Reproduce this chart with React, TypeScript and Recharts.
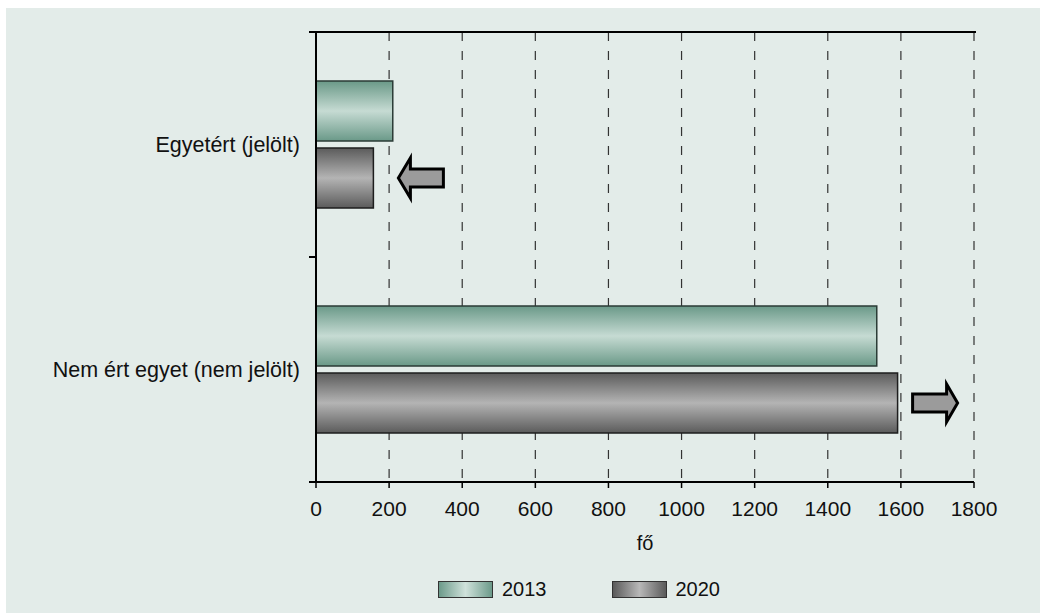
import * as Recharts from 'recharts';
import {
  Bar,
  BarChart,
  CartesianGrid,
  LabelList,
  ReferenceLine,
  XAxis,
  YAxis,
} from 'recharts';

const categories = ['Egyetért (jelölt)', 'Nem ért egyet (nem jelölt)'];
const values2013 = [210, 1534];
const values2020 = [157, 1591];
// direction of the change marker drawn after the 2020 bar
const arrowDirections = ['left', 'right'];
const xTicks = [0, 200, 400, 600, 800, 1000, 1200, 1400, 1600, 1800];
const seriesNames = ['2013', '2020'];

const FONT = '"Liberation Sans", Arial, sans-serif';
const PANEL_BG = '#e3ece9';
const LABEL_GAP = 16;
const EDGE_TICK = 7;

const chartData = categories.map((name, i) => ({
  name,
  y2013: values2013[i],
  y2020: values2020[i],
  arrow: arrowDirections[i],
}));

const usePlotAreaHook: any = (Recharts as any).usePlotArea;

// solid frame line across the top of the plot area
const TopFrame = () => {
  const plot = usePlotAreaHook ? usePlotAreaHook() : null;
  if (!plot) return null;
  return (
    <line
      x1={plot.x - EDGE_TICK}
      x2={plot.x + plot.width + 2}
      y1={plot.y}
      y2={plot.y}
      stroke="#000"
      strokeWidth={2}
    />
  );
};

// category label plus tick marks on the band edges (not the band centre)
const CategoryTick = (props: any) => {
  const { x, y, payload, index, visibleTicksCount } = props;
  const half = payload?.offset ?? 112.5;
  const axisX = x + LABEL_GAP;
  const last = index === (visibleTicksCount ?? categories.length) - 1;
  return (
    <g>
      <line
        x1={axisX - EDGE_TICK}
        x2={axisX}
        y1={y - half}
        y2={y - half}
        stroke="#000"
        strokeWidth={2}
      />
      {last && (
        <line
          x1={axisX - EDGE_TICK}
          x2={axisX}
          y1={y + half}
          y2={y + half}
          stroke="#000"
          strokeWidth={2}
        />
      )}
      <text
        x={x}
        y={y}
        dy="0.355em"
        textAnchor="end"
        fill="#111"
        fontSize={21.5}
        fontFamily={FONT}
      >
        {payload.value}
      </text>
    </g>
  );
};

const ChangeArrow = (props: any) => {
  const { x, y, width, height, index } = props;
  const dir = arrowDirections[index];
  const cy = y + height / 2;
  const end = x + width;
  let pts: number[][];
  if (dir === 'left') {
    const tx = end + 25;
    pts = [
      [tx, cy],
      [tx + 12, cy - 20],
      [tx + 12, cy - 9],
      [tx + 45, cy - 9],
      [tx + 45, cy + 9],
      [tx + 12, cy + 9],
      [tx + 12, cy + 20],
    ];
  } else {
    const sx = end + 15;
    pts = [
      [sx, cy - 9],
      [sx + 34, cy - 9],
      [sx + 34, cy - 19],
      [sx + 45, cy],
      [sx + 34, cy + 19],
      [sx + 34, cy + 9],
      [sx, cy + 9],
    ];
  }
  return (
    <polygon
      points={pts.map((p) => p.join(',')).join(' ')}
      fill="#9b9b9b"
      stroke="#000"
      strokeWidth={3}
      strokeLinejoin="miter"
    />
  );
};

const swatchStyle = (grad: string) => ({
  display: 'inline-block',
  width: 53,
  height: 15,
  border: '1px solid #333',
  background: grad,
  marginRight: 9,
  verticalAlign: 'middle',
});

const legendGradients = [
  'linear-gradient(to right, #6c9a8a, #d0e2db 50%, #6c9a8a)',
  'linear-gradient(to right, #5a5a5a, #b8b8b8 50%, #5a5a5a)',
];

export default function App() {
  return (
    <div
      style={{
        position: 'absolute',
        left: 0,
        top: 0,
        width: 1040,
        height: 613,
        background: '#fff',
        fontFamily: FONT,
        overflow: 'hidden',
      }}
    >
      <div
        style={{
          position: 'absolute',
          left: 6,
          top: 8,
          right: 0,
          bottom: 0,
          background: PANEL_BG,
        }}
      />
      <div style={{ position: 'absolute', left: 0, top: 0 }}>
        <BarChart
          width={1040}
          height={613}
          data={chartData}
          layout="vertical"
          margin={{ top: 32, right: 66, bottom: 56, left: 0 }}
          barSize={60}
          barGap={7}
        >
          <defs>
            <linearGradient id="g2013" x1="0" y1="0" x2="0" y2="1">
              <stop offset="0%" stopColor="#6a9988" />
              <stop offset="50%" stopColor="#c6dbd3" />
              <stop offset="100%" stopColor="#6a9988" />
            </linearGradient>
            <linearGradient id="g2020" x1="0" y1="0" x2="0" y2="1">
              <stop offset="0%" stopColor="#5b5b5b" />
              <stop offset="50%" stopColor="#b4b4b4" />
              <stop offset="100%" stopColor="#5b5b5b" />
            </linearGradient>
          </defs>
          <CartesianGrid
            horizontal={false}
            stroke="#333"
            strokeDasharray="9 10"
            strokeWidth={1.2}
          />
          <XAxis
            type="number"
            domain={[0, 1800]}
            ticks={xTicks}
            height={75}
            axisLine={{ stroke: '#000', strokeWidth: 2 }}
            tickLine={{ stroke: '#000', strokeWidth: 1.5 }}
            tickSize={6}
            tickMargin={13}
            tick={{ fill: '#111', fontSize: 21, fontFamily: FONT }}
            label={{
              value: 'fő',
              position: 'insideBottom',
              offset: 7,
              fill: '#111',
              fontSize: 20,
              fontFamily: FONT,
            }}
          />
          <YAxis
            type="category"
            dataKey="name"
            width={316}
            axisLine={{ stroke: '#000', strokeWidth: 2 }}
            tickLine={false}
            tickSize={0}
            tickMargin={LABEL_GAP}
            tick={CategoryTick}
          />
          <ReferenceLine
            y={categories[0]}
            position="start"
            ifOverflow="visible"
            stroke="#000"
            strokeWidth={2}
          />
          <Bar
            dataKey="y2013"
            name={seriesNames[0]}
            fill="url(#g2013)"
            stroke="#2b3b36"
            strokeWidth={1.5}
            isAnimationActive={false}
          />
          <Bar
            dataKey="y2020"
            name={seriesNames[1]}
            fill="url(#g2020)"
            stroke="#1e1e1e"
            strokeWidth={1.5}
            isAnimationActive={false}
          >
            <LabelList dataKey="arrow" content={ChangeArrow} />
          </Bar>
          <TopFrame />
        </BarChart>
      </div>
      <div
        style={{
          position: 'absolute',
          left: 438,
          top: 577,
          display: 'flex',
          alignItems: 'center',
          fontSize: 20,
          color: '#111',
          lineHeight: '24px',
        }}
      >
        {seriesNames.map((s, i) => (
          <div
            key={s}
            style={{ display: 'flex', alignItems: 'center', marginRight: i === 0 ? 65 : 0 }}
          >
            <span style={swatchStyle(legendGradients[i])} />
            <span>{s}</span>
          </div>
        ))}
      </div>
    </div>
  );
}
